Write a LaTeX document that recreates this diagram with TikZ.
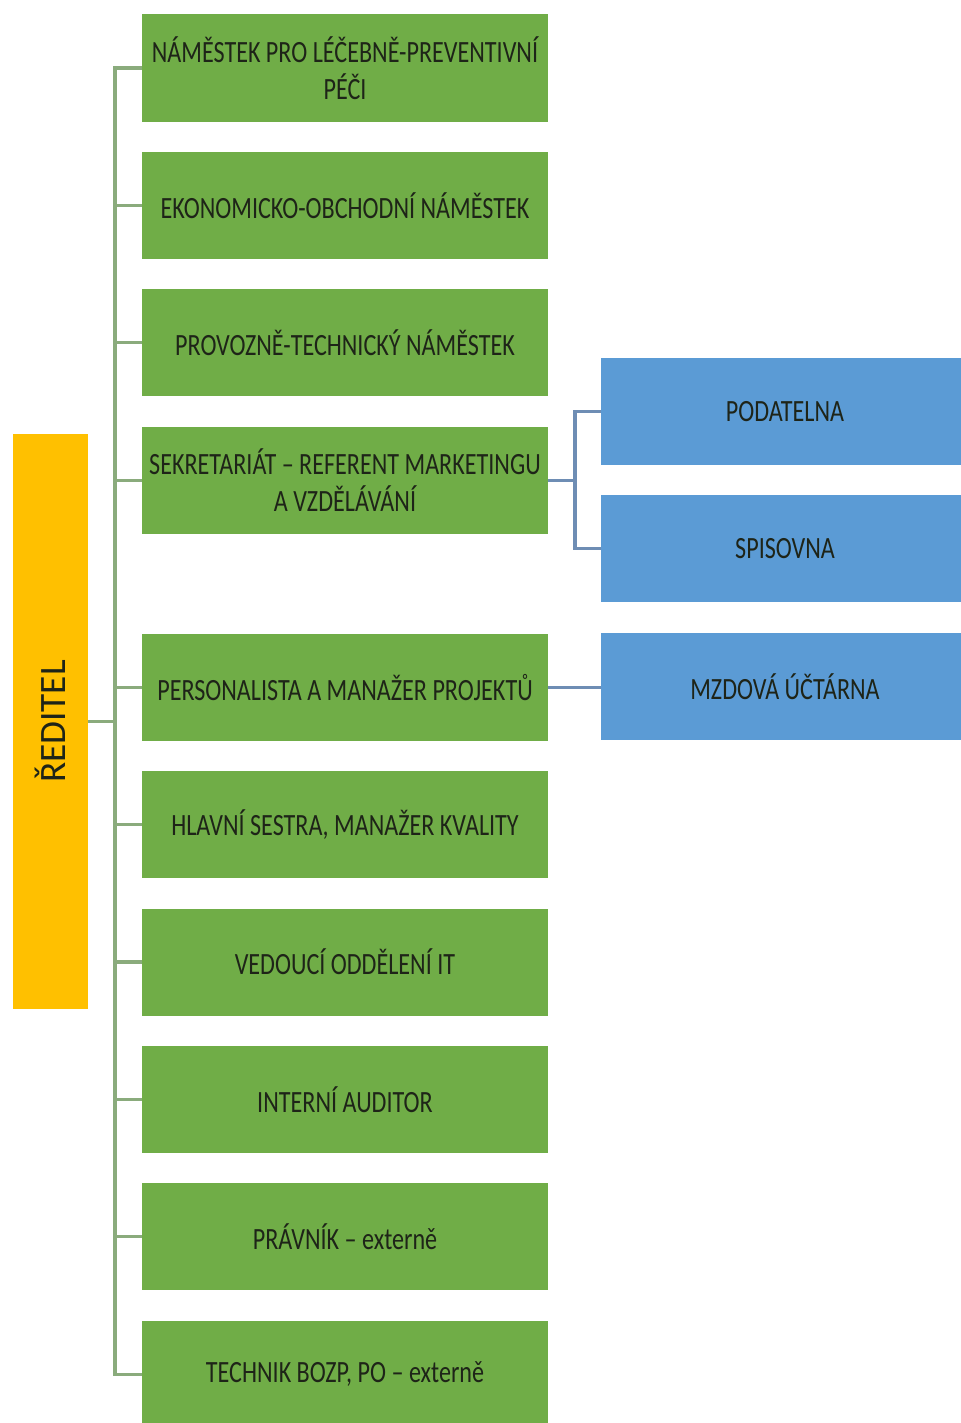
\documentclass[tikz,border=0pt]{standalone}
\usepackage{fontspec}
\setmainfont{Carlito}
\newfontfamily\narrowfont[FakeStretch=0.78]{Carlito}
\usetikzlibrary{positioning}
\definecolor{deputy}{HTML}{70AD47}
\definecolor{office}{HTML}{5B9BD5}
\definecolor{head}{HTML}{FFC000}
\definecolor{glink}{HTML}{8AAB7C}
\definecolor{blink}{HTML}{6E8DB4}
\definecolor{ink}{HTML}{1E2418}
\tikzset{
  greenbox/.style={rectangle, fill=deputy, minimum width=4.06cm, minimum height=1.07cm,
              inner sep=0pt, outer sep=0pt, align=center, text=ink, font=\narrowfont\fontsize{8.8}{10.6}\selectfont},
  bluebox/.style={rectangle, fill=office, minimum width=3.68cm, minimum height=1.07cm,
              inner sep=0pt, outer sep=0pt, align=center, text=ink, font=\narrowfont\fontsize{8.8}{10.6}\selectfont},
  headbox/.style={rectangle, fill=head, minimum width=0.75cm, minimum height=5.75cm,
              inner sep=0pt, outer sep=0pt},
  gline/.style={draw=glink, line width=0.9pt},
  bline/.style={draw=blink, line width=0.9pt},
}
\begin{document}
\begin{tikzpicture}[node distance=0.304cm]
\useasboundingbox (0,0) rectangle (9.6,-14.23);
% ridici uroven
\node[greenbox] (g1) at (3.45,-0.68) {NÁMĚSTEK PRO LÉČEBNĚ-PREVENTIVNÍ\\PÉČI};
\node[greenbox, below=of g1] (g2) {EKONOMICKO-OBCHODNÍ NÁMĚSTEK};
\node[greenbox, below=of g2] (g3) {PROVOZNĚ-TECHNICKÝ NÁMĚSTEK};
\node[greenbox, below=of g3] (g4) {SEKRETARIÁT – REFERENT MARKETINGU\\A VZDĚLÁVÁNÍ};
\node[greenbox, below=1.0cm of g4] (g5) {PERSONALISTA A MANAŽER PROJEKTŮ};
\node[greenbox, below=of g5] (g6) {HLAVNÍ SESTRA, MANAŽER KVALITY};
\node[greenbox, below=of g6] (g7) {VEDOUCÍ ODDĚLENÍ IT};
\node[greenbox, below=of g7] (g8) {INTERNÍ AUDITOR};
\node[greenbox, below=of g8] (g9) {PRÁVNÍK – externě};
\node[greenbox, below=of g9] (g10) {TECHNIK BOZP, PO – externě};

\node[headbox] (red) at (0.505,-7.215) {};
\node[rotate=90, font=\fontsize{10.6}{12}\selectfont, text=ink] (redtxt) at (red.center) {ŘEDITEL};

% podrizene utvary
\node[bluebox, anchor=west] (pod) at (6.01,-4.115) {PODATELNA};
\node[bluebox, below=of pod] (spis) {SPISOVNA};
\node[bluebox, below=of spis] (mzd) {MZDOVÁ ÚČTÁRNA};

\coordinate (spine) at (1.15,0);
\coordinate (fork) at (5.75,0);
\draw[gline] (red.east) -- (red.east -| spine);
\draw[gline] (g1.west) -| (spine |- g1) |- (g10.west);
\foreach \n in {2,...,9} \draw[gline] (g\n.west) -- (g\n.west -| spine);
\draw[bline] (g4.east) -- (g4.east -| fork);
\draw[bline] (pod.west) -- (pod.west -| fork) |- (spis.west);
\draw[bline] (g5.east) -- (g5.east -| mzd.west);
\end{tikzpicture}
\end{document}
